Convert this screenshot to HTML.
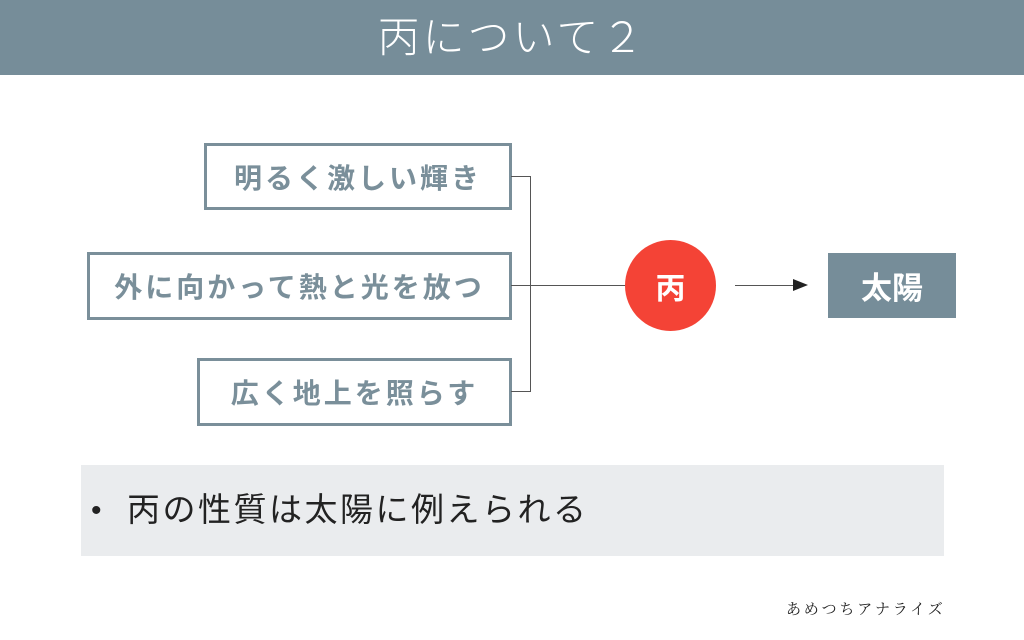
<!DOCTYPE html>
<html><head><meta charset="utf-8"><style>
body{margin:0;width:1024px;height:640px;background:#fff;position:relative;overflow:hidden;font-family:"Liberation Sans","Noto Sans CJK JP",sans-serif}
.hd{position:absolute;left:0;top:0;width:1024px;height:75px;background:#768d99;color:#fff;font-size:42px;text-align:center;line-height:75px;letter-spacing:3px;font-weight:300}
.b{position:absolute;box-sizing:border-box;border:3px solid #7a8f9a;color:#7a8f9a;font-weight:bold;font-size:28px;display:flex;align-items:center;justify-content:center;letter-spacing:3px}
.ln{position:absolute;background:#555}
</style></head><body>
<div class="hd">丙について２</div>
<div class="b" style="left:204px;top:143px;width:308px;height:67px">明るく激しい輝き</div>
<div class="b" style="left:87px;top:252px;width:425px;height:68px">外に向かって熱と光を放つ</div>
<div class="b" style="left:197px;top:358px;width:315px;height:68px">広く地上を照らす</div>
<div class="ln" style="left:511px;top:176px;width:19px;height:1px"></div>
<div class="ln" style="left:511px;top:391px;width:19px;height:1px"></div>
<div class="ln" style="left:530px;top:176px;width:1px;height:216px"></div>
<div class="ln" style="left:511px;top:285px;width:120px;height:1px"></div>
<div style="position:absolute;left:625px;top:240px;width:91px;height:91px;border-radius:50%;background:#f44336;color:#fff;font-weight:bold;font-size:30px;display:flex;align-items:center;justify-content:center">丙</div>
<div class="ln" style="left:735px;top:285px;width:60px;height:1px"></div>
<div style="position:absolute;left:793px;top:279px;width:0;height:0;border-left:15px solid #222;border-top:6px solid transparent;border-bottom:6px solid transparent"></div>
<div style="position:absolute;left:828px;top:253px;width:128px;height:65px;background:#768d99;color:#fff;font-weight:bold;font-size:31px;display:flex;align-items:center;justify-content:center">太陽</div>
<div style="position:absolute;left:81px;top:465px;width:863px;height:91px;background:#eaecee"></div>
<div style="position:absolute;left:91px;top:465px;height:91px;line-height:91px;font-size:30px;color:#222">•</div>
<div style="position:absolute;left:127px;top:465px;height:91px;line-height:89px;font-size:33px;color:#222;letter-spacing:2.5px;white-space:nowrap">丙の性質は太陽に例えられる</div>
<div style="position:absolute;left:786px;top:598px;font-size:15px;color:#222;font-family:'Noto Serif CJK SC',serif;letter-spacing:2.8px;white-space:nowrap">あめつちアナライズ</div>
</body></html>
